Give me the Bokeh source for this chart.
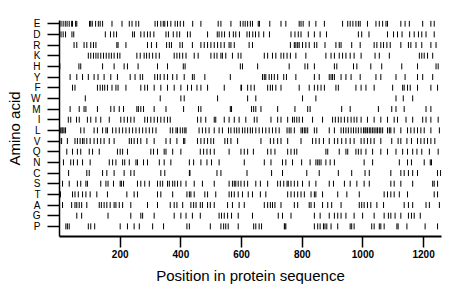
from bokeh.plotting import figure
from bokeh.models import Range1d, FixedTicker, ColumnDataSource
from bokeh.embed import file_html
from bokeh.resources import INLINE

# Amino acids, top row to bottom row
amino_acids = ["E", "D", "R", "K", "H", "Y", "F", "W", "M", "I",
               "L", "V", "Q", "N", "C", "S", "T", "A", "G", "P"]
x_ticks = [200, 400, 600, 800, 1000, 1200]
seq_length = 1259

# Residue positions of each amino acid
pos_E = [5, 12, 19, 25, 32, 40, 43, 53, 57, 99, 103, 108, 119, 128, 134, 142, 173, 206, 230, 239, 252, 261,
         315, 323, 334, 342, 347, 356, 367, 381, 389, 398, 409, 439, 466, 523, 532, 565, 596, 605, 612, 620,
         629, 636, 655, 659, 693, 730, 746, 790, 796, 803, 823, 845, 873, 933, 950, 958, 967, 977, 985, 991,
         1015, 1043, 1054, 1065, 1076, 1081, 1125, 1139, 1153, 1197, 1224, 1235]
pos_D = [5, 12, 20, 41, 47, 151, 168, 179, 188, 241, 247, 268, 279, 290, 299, 311, 351, 359, 375, 387, 396,
         422, 431, 488, 520, 526, 535, 544, 560, 573, 581, 593, 618, 626, 637, 646, 657, 673, 692, 763, 776,
         787, 796, 820, 840, 859, 880, 985, 996, 1020, 1081, 1101, 1114, 1129, 1154, 1169, 1183, 1194, 1208,
         1235]
pos_R = [48, 57, 81, 90, 103, 112, 120, 189, 193, 219, 290, 303, 320, 353, 362, 369, 397, 405, 438, 466, 477,
         488, 499, 510, 521, 532, 543, 559, 565, 576, 625, 636, 761, 774, 779, 785, 790, 801, 812, 823, 840,
         848, 875, 911, 922, 928, 963, 991, 1037, 1046, 1059, 1068, 1079, 1090, 1125, 1150, 1158, 1175, 1194,
         1224, 1241]
pos_K = [95, 103, 112, 120, 127, 136, 145, 154, 163, 171, 180, 191, 199, 255, 266, 279, 287, 296, 307, 318,
         329, 378, 387, 396, 406, 417, 444, 457, 499, 510, 519, 532, 537, 548, 570, 589, 598, 675, 686, 702,
         713, 730, 739, 750, 761, 779, 812, 878, 895, 906, 922, 933, 944, 958, 971, 994, 1040, 1054, 1087,
         1186, 1194, 1202, 1213, 1230]
pos_H = [1, 64, 70, 142, 180, 213, 224, 259, 323, 356, 408, 414, 596, 603, 653, 757, 809, 818, 840, 906, 914,
         969, 980, 1026, 1062, 1128, 1180, 1241, 1248]
pos_Y = [35, 57, 76, 95, 114, 127, 147, 169, 191, 233, 249, 266, 274, 314, 323, 332, 345, 356, 373, 387, 411,
         438, 444, 479, 563, 669, 675, 680, 691, 699, 708, 719, 739, 748, 779, 840, 856, 889, 895, 900, 906,
         928, 944, 961, 991, 1043, 1059, 1109, 1139, 1180, 1197, 1230]
pos_F = [43, 51, 125, 134, 142, 149, 158, 173, 186, 193, 219, 268, 281, 290, 312, 334, 356, 378, 400, 422,
         435, 453, 466, 488, 543, 598, 600, 620, 631, 642, 686, 695, 702, 713, 730, 790, 823, 840, 851, 862,
         873, 911, 919, 977, 994, 1010, 1037, 1098, 1131, 1136, 1147, 1156, 1180, 1224, 1246]
pos_W = [85, 332, 400, 411, 521, 620, 647, 801, 845, 1109, 1133, 1164]
pos_M = [35, 65, 81, 87, 125, 169, 180, 197, 211, 255, 260, 268, 277, 312, 351, 409, 458, 466, 563, 567, 633,
         640, 647, 664, 719, 776, 818, 826, 930, 958, 1051, 1095, 1109, 1136, 1208, 1224]
pos_I = [29, 37, 56, 65, 92, 103, 120, 136, 164, 202, 213, 224, 235, 246, 281, 290, 301, 312, 323, 334, 345,
         356, 365, 455, 466, 482, 510, 515, 543, 559, 576, 592, 614, 642, 651, 697, 719, 730, 752, 768, 774,
         782, 790, 801, 834, 867, 900, 909, 919, 928, 939, 950, 961, 971, 980, 994, 1015, 1037, 1059, 1081,
         1103, 1114, 1142, 1164, 1197, 1208, 1224, 1248]
pos_L = [4, 8, 11, 15, 20, 70, 81, 114, 125, 142, 153, 158, 175, 186, 197, 208, 219, 230, 241, 252, 263, 274,
         285, 296, 307, 318, 365, 373, 384, 389, 398, 406, 413, 417, 460, 471, 482, 493, 510, 526, 537, 557,
         565, 576, 584, 592, 603, 611, 620, 629, 636, 647, 658, 669, 680, 691, 702, 713, 724, 750, 757, 763,
         774, 796, 801, 807, 812, 818, 840, 848, 889, 906, 928, 936, 944, 952, 961, 969, 977, 985, 994, 1002,
         1007, 1010, 1015, 1021, 1026, 1032, 1037, 1043, 1048, 1054, 1059, 1065, 1081, 1087, 1092, 1103, 1125,
         1147, 1158, 1169, 1180, 1191, 1202, 1224, 1252]
pos_V = [1, 7, 26, 51, 59, 68, 76, 81, 90, 101, 114, 125, 136, 147, 164, 180, 230, 237, 246, 257, 268, 288,
         312, 351, 365, 387, 409, 413, 455, 466, 477, 488, 499, 508, 545, 554, 565, 587, 664, 695, 706, 719,
         730, 752, 796, 834, 845, 856, 870, 889, 906, 917, 930, 944, 958, 971, 994, 1004, 1015, 1026, 1037,
         1059, 1095, 1116, 1125, 1145, 1160, 1180, 1191, 1202, 1213, 1224, 1237]
pos_Q = [24, 43, 59, 70, 98, 109, 131, 191, 200, 208, 224, 301, 310, 323, 345, 351, 373, 400, 464, 475, 486,
         497, 510, 559, 598, 609, 620, 639, 686, 697, 710, 752, 763, 774, 782, 878, 884, 922, 944, 950, 977,
         985, 994, 1010, 1032, 1059, 1081, 1109, 1131, 1147, 1164, 1178, 1194, 1219, 1248]
pos_N = [13, 37, 46, 59, 76, 101, 164, 175, 186, 208, 215, 230, 252, 257, 277, 290, 329, 345, 367, 428, 442,
         466, 486, 501, 526, 609, 675, 697, 735, 746, 768, 798, 826, 845, 851, 856, 862, 878, 892, 906, 1004,
         1032, 1120, 1147, 1160, 1202, 1222, 1226]
pos_C = [30, 90, 98, 142, 156, 180, 213, 235, 246, 334, 347, 428, 430, 519, 532, 618, 699, 735, 815, 856, 919,
         963, 1007, 1021, 1092, 1125, 1136, 1150, 1164, 1180, 1246, 1256]
pos_S = [10, 32, 59, 70, 87, 92, 136, 153, 160, 178, 200, 204, 211, 257, 268, 281, 296, 323, 332, 340, 356,
         362, 373, 380, 389, 400, 417, 444, 471, 510, 559, 570, 576, 581, 589, 598, 609, 620, 647, 662, 686,
         719, 728, 739, 750, 754, 763, 774, 785, 801, 823, 845, 889, 903, 939, 958, 980, 1004, 1021, 1092,
         1103, 1125, 1164, 1230, 1235, 1246]
pos_T = [1, 3, 43, 51, 62, 76, 87, 101, 123, 158, 222, 246, 257, 323, 334, 373, 420, 428, 433, 444, 479, 488,
         515, 559, 567, 576, 589, 603, 622, 636, 662, 680, 752, 763, 774, 785, 796, 807, 829, 840, 845, 867,
         917, 947, 988, 1070, 1081, 1092, 1103, 1120, 1147, 1235, 1246]
pos_A = [10, 40, 51, 57, 65, 73, 90, 131, 138, 147, 156, 167, 180, 186, 197, 208, 235, 290, 323, 365, 378,
         387, 406, 433, 442, 450, 464, 471, 488, 497, 510, 554, 570, 592, 609, 675, 686, 695, 702, 710, 730,
         774, 785, 823, 829, 840, 867, 884, 897, 928, 988, 996, 1004, 1015, 1026, 1046, 1068, 1136, 1150,
         1164, 1208, 1219, 1252]
pos_G = [57, 73, 160, 235, 268, 274, 312, 378, 400, 417, 438, 464, 526, 534, 543, 554, 567, 589, 636, 721,
         735, 763, 840, 859, 889, 906, 917, 928, 944, 971, 999, 1037, 1070, 1084, 1092, 1106, 1125, 1150,
         1160, 1169, 1189]
pos_P = [21, 26, 32, 95, 103, 116, 200, 224, 246, 263, 307, 343, 420, 428, 497, 532, 541, 548, 556, 589, 640,
         647, 658, 666, 741, 743, 746, 840, 851, 859, 870, 875, 881, 895, 917, 958, 963, 971, 1029, 1037,
         1054, 1059, 1070, 1112, 1116, 1145, 1205, 1246]

positions = [pos_E, pos_D, pos_R, pos_K, pos_H, pos_Y, pos_F, pos_W, pos_M, pos_I,
             pos_L, pos_V, pos_Q, pos_N, pos_C, pos_S, pos_T, pos_A, pos_G, pos_P]

n_rows = len(amino_acids)
row_of = {aa: n_rows - i for i, aa in enumerate(amino_acids)}  # E top (20) ... P bottom (1)

xs, ys = [], []
for aa, plist in zip(amino_acids, positions):
    for x in plist:
        xs.append(x)
        ys.append(row_of[aa])

half = 0.28
src = ColumnDataSource(dict(x=xs, y0=[y - half for y in ys], y1=[y + half for y in ys]))

p = figure(width=444, height=286, output_backend="svg", toolbar_location=None,
           x_range=Range1d(0, seq_length), y_range=Range1d(0.05, 20.3),
           min_border_left=59, min_border_right=3, min_border_top=20, min_border_bottom=47)

p.segment(x0="x", y0="y0", x1="x", y1="y1", source=src, line_color="black", line_width=1)

p.grid.visible = False
p.outline_line_color = None
p.background_fill_color = "white"
p.border_fill_color = "white"

font = "Liberation Sans"

xa = p.xaxis[0]
xa.ticker = FixedTicker(ticks=x_ticks)
xa.axis_line_width = 2
xa.axis_line_color = "black"
xa.major_tick_line_color = "black"
xa.major_tick_line_width = 1.5
xa.major_tick_out = 11
xa.major_tick_in = 0
xa.minor_tick_line_color = None
xa.major_label_text_font = font
xa.major_label_text_font_size = "10px"
xa.major_label_text_font_style = "bold"
xa.major_label_text_color = "black"
xa.major_label_standoff = 2
xa.axis_label = "Position in protein sequence"
xa.axis_label_text_font = font
xa.axis_label_text_font_size = "15px"
xa.axis_label_text_font_style = "normal"
xa.axis_label_text_color = "black"
xa.axis_label_standoff = 6

ya = p.yaxis[0]
ya.ticker = FixedTicker(ticks=list(range(1, n_rows + 1)))
ya.major_label_overrides = {row_of[aa]: aa for aa in amino_acids}
ya.axis_line_width = 1.5
ya.axis_line_color = "black"
ya.major_tick_line_color = "black"
ya.major_tick_line_width = 1.5
ya.major_tick_out = 12
ya.major_tick_in = 0
ya.minor_tick_line_color = None
ya.major_label_text_font = font
ya.major_label_text_font_size = "10px"
ya.major_label_text_color = "black"
ya.major_label_standoff = 7
ya.axis_label = "Amino acid"
ya.axis_label_text_font = font
ya.axis_label_text_font_size = "15px"
ya.axis_label_text_font_style = "normal"
ya.axis_label_text_color = "black"
ya.axis_label_standoff = 5

open("out.html", "w").write(file_html(p, INLINE))
